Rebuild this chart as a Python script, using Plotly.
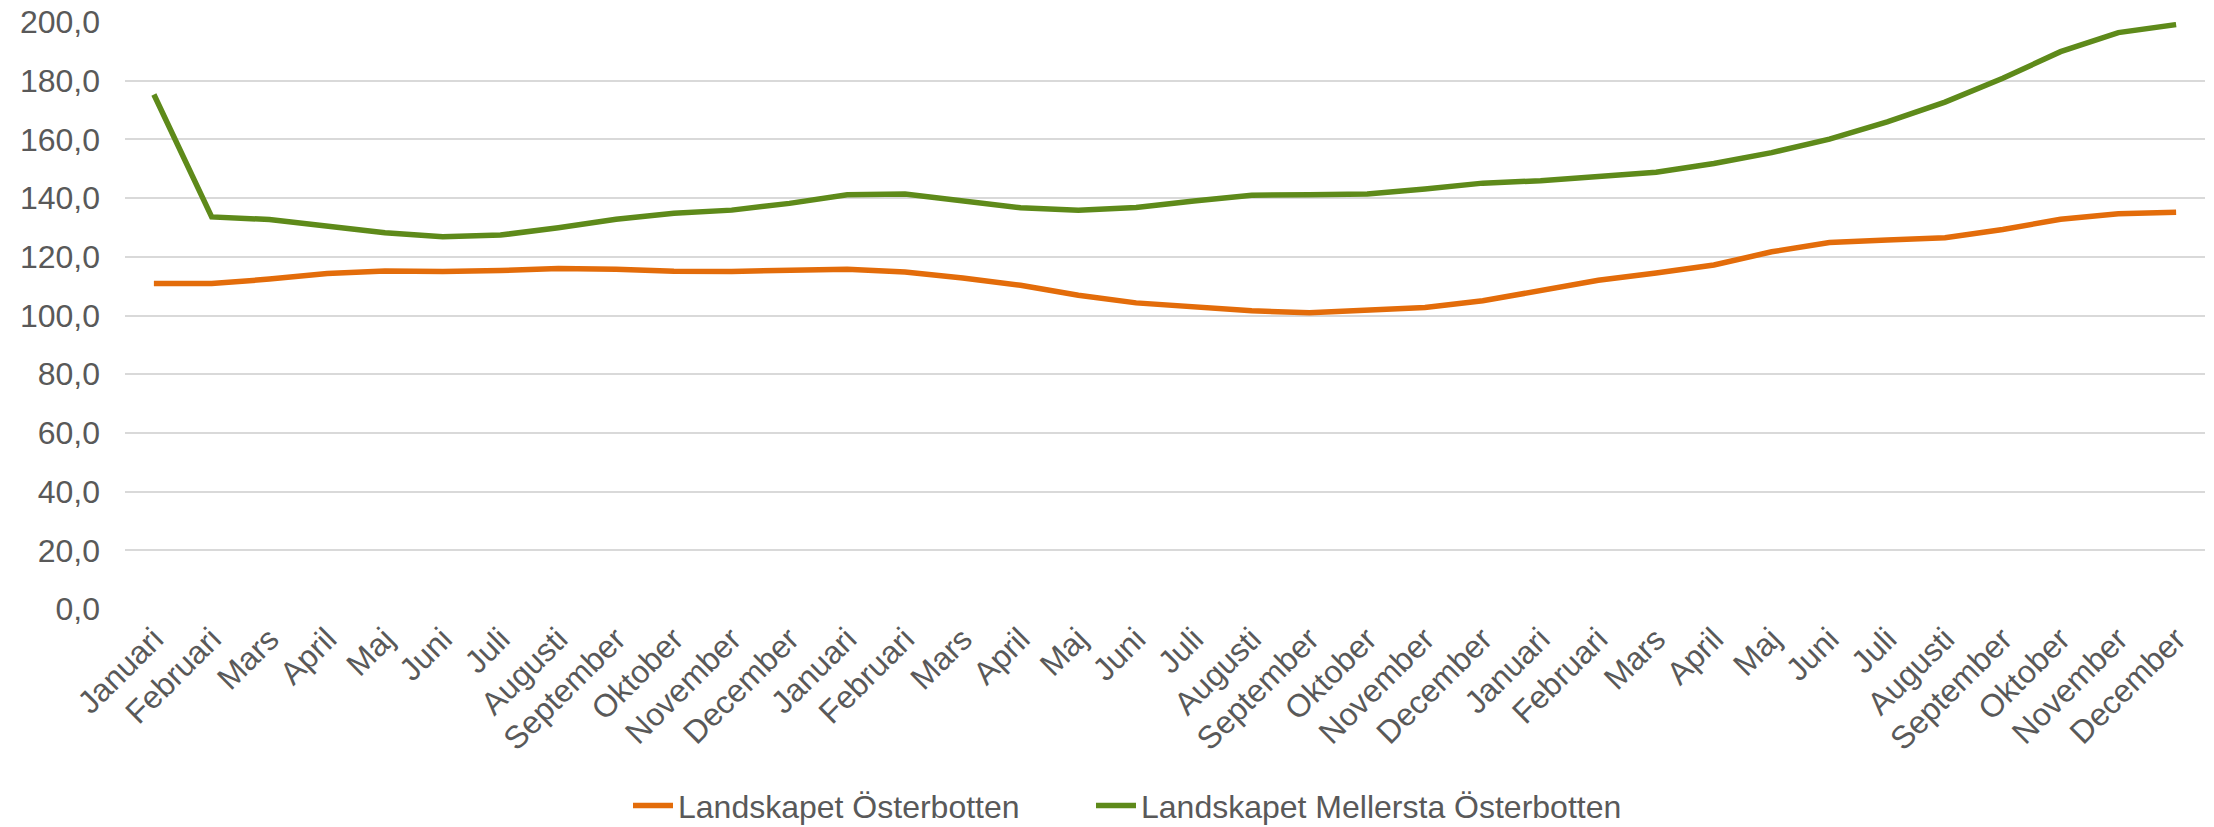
import plotly.graph_objects as go

months = ["Januari", "Februari", "Mars", "April", "Maj", "Juni", "Juli", "Augusti",
          "September", "Oktober", "November", "December"]
categories = months * 3

osterbotten = [110.9, 110.9, 112.4, 114.3, 115.2, 115.0, 115.3, 116.0, 115.8, 115.1, 115.0, 115.5,
               115.8, 114.8, 112.8, 110.3, 106.9, 104.3, 103.0, 101.6, 100.9, 101.6, 102.7, 105.0,
               108.3, 112.0, 114.5, 117.2, 121.7, 124.9, 125.7, 126.5, 129.3, 132.8, 134.7, 135.2]

mellersta = [175.3, 133.6, 132.7, 130.6, 128.2, 126.8, 127.4, 129.9, 132.8, 134.8, 135.9, 138.2,
             141.1, 141.4, 139.1, 136.7, 135.9, 136.8, 139.0, 141.0, 141.1, 141.4, 143.1, 145.1,
             145.9, 147.3, 148.8, 151.8, 155.5, 160.1, 166.0, 172.7, 180.8, 189.9, 196.4, 199.1]

series_names = ["Landskapet Österbotten", "Landskapet Mellersta Österbotten"]
colors = ["#E36C0A", "#5E8A1A"]

y_ticks = [0, 20, 40, 60, 80, 100, 120, 140, 160, 180, 200]
y_ticktext = [f"{v:.1f}".replace(".", ",") for v in y_ticks]

x_idx = list(range(len(categories)))

W, H = 2214, 827

fig = go.Figure()
for i, (name, vals, col) in enumerate(zip(series_names, [osterbotten, mellersta], colors)):
    fig.add_trace(go.Scatter(
        x=x_idx, y=vals, mode="lines", name=name,
        line=dict(color=col, width=5.5),
        legend="legend" if i == 0 else "legend2",
    ))

FS = 32
font_family = "Liberation Sans, Arial, sans-serif"
leg_common = dict(
    orientation="h", xref="container", yref="paper",
    xanchor="left", y=-0.382, yanchor="bottom",
    font=dict(size=FS, color="#595959"), itemwidth=40,
    bgcolor="rgba(0,0,0,0)",
)
fig.update_layout(
    width=W, height=H,
    margin=dict(l=125, r=9, t=22, b=217.5, autoexpand=False),
    paper_bgcolor="white", plot_bgcolor="white",
    font=dict(family=font_family, size=FS, color="#595959"),
    showlegend=True,
    legend=dict(x=628 / W, **leg_common),
    legend2=dict(x=1091 / W, **leg_common),
)
fig.update_xaxes(
    range=[-0.5, len(categories) - 0.5],
    tickmode="array", tickvals=x_idx, ticktext=categories,
    tickangle=-45, showgrid=False, zeroline=False, showline=False,
    ticks="", tickfont=dict(size=FS, color="#595959"), automargin=False,
    ticklabeloverflow="allow", ticklabelstandoff=4,
)
fig.update_yaxes(
    range=[0, 200], tickmode="array", tickvals=y_ticks, ticktext=y_ticktext,
    showgrid=True, gridcolor="#D9D9D9", gridwidth=1.5,
    zeroline=False, showline=False, ticks="", ticklabelstandoff=24,
    tickfont=dict(size=FS, color="#595959"), automargin=False,
    ticklabeloverflow="allow",
)

fig.write_html(
    "out.html",
    config={"displayModeBar": False},
    post_script="document.body.style.margin='0';document.body.style.overflow='hidden';",
)
